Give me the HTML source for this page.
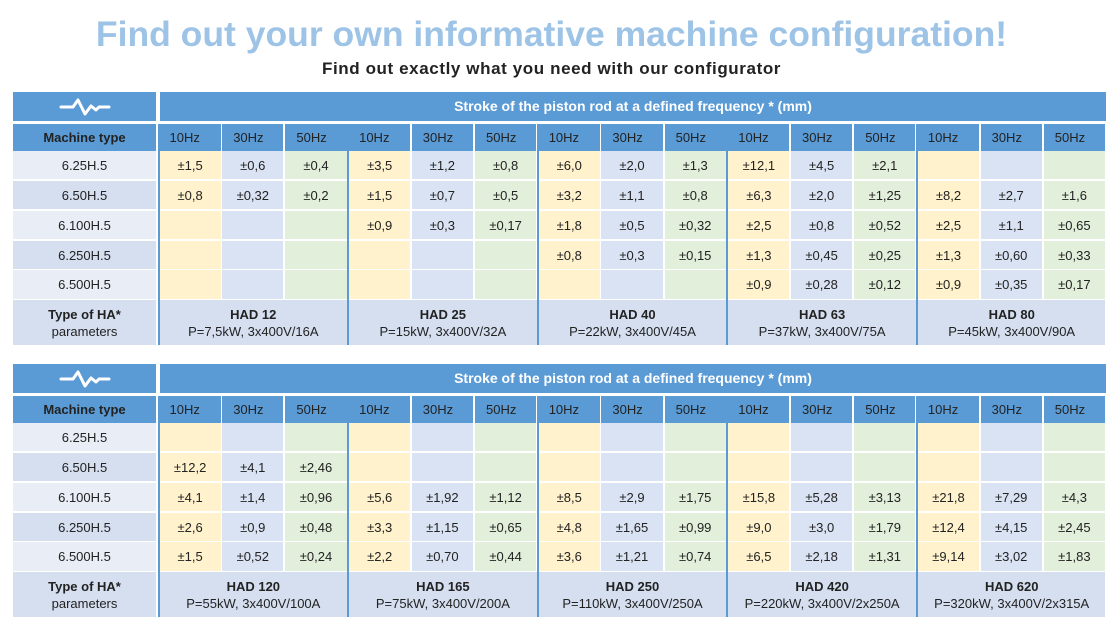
<!DOCTYPE html>
<html><head><meta charset="utf-8"><style>
body{margin:0;width:1119px;height:624px;background:#fff;font-family:"Liberation Sans",Calibri,sans-serif;position:relative;overflow:hidden}
.t{position:absolute;text-align:center;white-space:nowrap}
.c{position:absolute;box-sizing:border-box;display:flex;align-items:center;justify-content:center;font-size:13px;color:#222;text-align:center;line-height:17px}
</style></head><body>
<div class="t" style="left:0;width:1103px;top:14px;font-size:35.5px;font-weight:bold;color:#9dc3e6">Find out your own informative machine configuration!</div>
<div class="t" style="left:0;width:1103px;top:59px;font-size:17px;font-weight:bold;color:#222;letter-spacing:0.6px">Find out exactly what you need with our configurator</div>
<div id="root"></div>
<script>
const root=document.getElementById('root');let h='';
const X0=13,X1=158,W=(1106-158)/15;
function cell(x,y,w,ht,bg,txt,st){h+=`<div class="c" style="left:${x}px;top:${y}px;width:${w}px;height:${ht}px;background:${bg};${st||''}">${txt}</div>`;}
const col=['#fff2cc','#dae3f3','#e2efda'];
function table(oy,data,foot){
 cell(X0,oy,X1-X0-2,29,'#5b9bd5','<svg width="52" height="20" viewBox="0 0 52 20"><path d="M2 10H14L19 3L26 17L32 9L37 13L40 10H50" fill="none" stroke="#fff" stroke-width="3" stroke-linecap="round" stroke-linejoin="round"/></svg>');
 cell(X1+2,oy,1106-X1-2,29,'#5b9bd5','Stroke of the piston rod at a defined frequency * (mm)','color:#fff;font-weight:bold;font-size:14px');
 cell(X0,oy+32,X1-X0-2,27,'#5b9bd5','Machine type','font-weight:bold');
 for(let i=0;i<15;i++){cell(X1+i*W+(i%3==0?1.5:1),oy+32,W-2,27,'#5b9bd5',['10Hz','30Hz','50Hz'][i%3],'justify-content:flex-start;padding-left:'+(i%3==0?10:11)+'px');}
 const names=['6.25H.5','6.50H.5','6.100H.5','6.250H.5','6.500H.5'];
 const ry=[59,89,119,149,178];
 for(let r=0;r<5;r++){const y=oy+ry[r],hh=r==4?29:28;
  cell(X0,y,X1-X0-2,hh,r%2?'#d5dff0':'#e8edf6',names[r]);
  for(let i=0;i<15;i++){cell(X1+i*W+(i%3==0?1.5:1),y,W-2,hh,col[i%3],data[r][i]||'');}}
 cell(X0,oy+208,X1-X0-2,45,'#d5dff0','<div><b>Type of HA*</b><br>parameters</div>');
 for(let g=0;g<5;g++)cell(X1+g*3*W+1.5,oy+208,3*W-2,45,'#d5dff0',`<div><b>${foot[g][0]}</b><br>${foot[g][1]}</div>`);
 for(let g=0;g<5;g++)h+=`<div style="position:absolute;left:${X1+g*3*W-0.5}px;top:${oy+32}px;width:2px;height:221px;background:#5b9bd5"></div>`;
}
const s=a=>a.split(' ').map(v=>v=='-'?'':'±'+v);
table(92,[s('1,5 0,6 0,4 3,5 1,2 0,8 6,0 2,0 1,3 12,1 4,5 2,1 - - -'),s('0,8 0,32 0,2 1,5 0,7 0,5 3,2 1,1 0,8 6,3 2,0 1,25 8,2 2,7 1,6'),s('- - - 0,9 0,3 0,17 1,8 0,5 0,32 2,5 0,8 0,52 2,5 1,1 0,65'),s('- - - - - - 0,8 0,3 0,15 1,3 0,45 0,25 1,3 0,60 0,33'),s('- - - - - - - - - 0,9 0,28 0,12 0,9 0,35 0,17')],
[['HAD 12','P=7,5kW, 3x400V/16A'],['HAD 25','P=15kW, 3x400V/32A'],['HAD 40','P=22kW, 3x400V/45A'],['HAD 63','P=37kW, 3x400V/75A'],['HAD 80','P=45kW, 3x400V/90A']]);
table(364,[s('- - - - - - - - - - - - - - -'),s('12,2 4,1 2,46 - - - - - - - - - - - -'),s('4,1 1,4 0,96 5,6 1,92 1,12 8,5 2,9 1,75 15,8 5,28 3,13 21,8 7,29 4,3'),s('2,6 0,9 0,48 3,3 1,15 0,65 4,8 1,65 0,99 9,0 3,0 1,79 12,4 4,15 2,45'),s('1,5 0,52 0,24 2,2 0,70 0,44 3,6 1,21 0,74 6,5 2,18 1,31 9,14 3,02 1,83')],
[['HAD 120','P=55kW, 3x400V/100A'],['HAD 165','P=75kW, 3x400V/200A'],['HAD 250','P=110kW, 3x400V/250A'],['HAD 420','P=220kW, 3x400V/2x250A'],['HAD 620','P=320kW, 3x400V/2x315A']]);
root.innerHTML=h;
</script>
</body></html>
